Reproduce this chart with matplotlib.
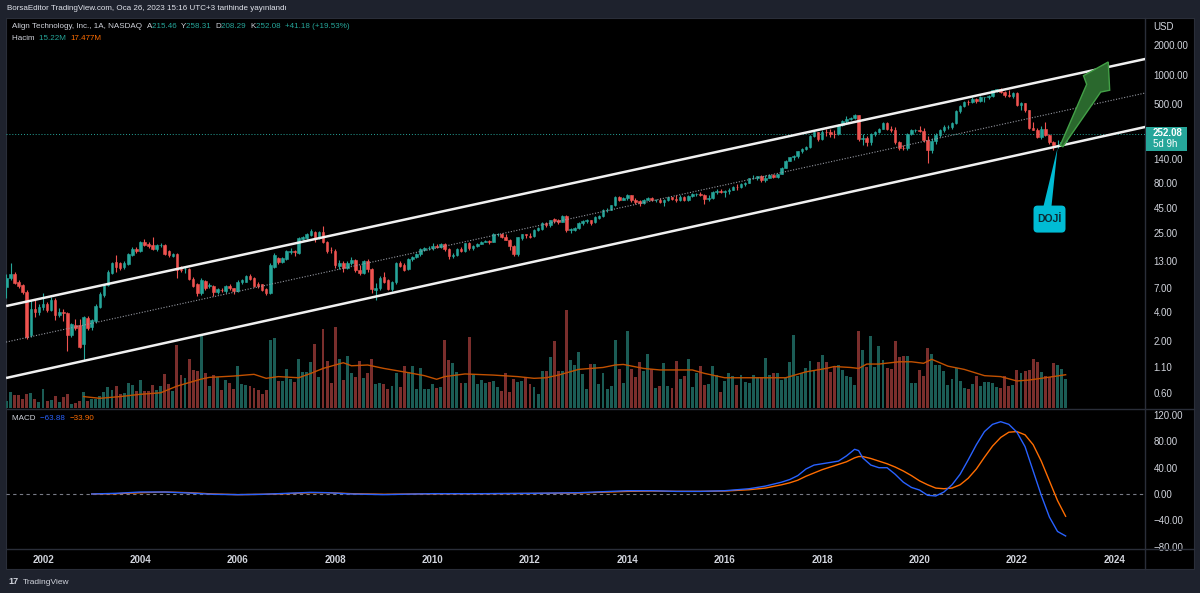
#!/usr/bin/env python3
"""
ALGN monthly candles (TradingView snapshot style): log price pane with
channel, volume overlay + 20-period MA, and a MACD pane below.
x axis = months counted from Jan 2002 (Apr 2001 = -9, Jan 2023 = 252).
"""
import numpy as np
import matplotlib
matplotlib.use("Agg")
import matplotlib.pyplot as plt
from matplotlib.patches import Rectangle, Polygon, FancyBboxPatch
from matplotlib.lines import Line2D
from matplotlib.transforms import IdentityTransform
from matplotlib.ticker import FixedLocator, NullLocator

plt.rcParams["font.family"] = ["Liberation Sans", "DejaVu Sans"]

# --- data: monthly OHLC, Apr 2001 .. Jan 2023 -----------------------------
first_month = -9

open_ = [
    7.1, 8.8, 9.6, 7.9, 7.4, 6.4, 2.3, 4.3, 3.95,                                  # 2001 Apr-Dec
    4.5, 4.8, 4.2, 5.3, 3.7, 3.95, 3.9, 2.3, 2.9, 2.9, 1.9, 3.45,                  # 2002
    2.8, 3.2, 4.5, 5.9, 7.4, 9.8, 12.6, 12.3, 11.2, 12.2, 15.0, 17.4,              # 2003
    16.4, 20.2, 19.5, 18.8, 17.2, 18.8, 18.8, 16.4, 14.6, 15.3, 10.8, 10.7,        # 2004
    10.8, 8.6, 7.6, 6.2, 8.2, 7.2, 7.3, 6.3, 6.7, 6.5, 7.3, 6.9,                   # 2005
    6.5, 8.0, 8.0, 9.2, 8.8, 7.6, 7.6, 6.8, 6.2, 11.3, 14.0, 12.7,                 # 2006
    13.6, 16.0, 16.3, 15.8, 22.0, 22.5, 24.0, 25.6, 22.5, 25.5, 20.2, 16.8,        # 2007
    16.6, 11.6, 12.3, 11.0, 12.3, 13.4, 10.5, 9.8, 13.1, 10.8, 6.7, 6.9,           # 2008
    9.0, 8.3, 6.8, 7.9, 12.4, 11.9, 10.8, 13.5, 14.3, 15.2, 17.0, 17.6,            # 2009
    17.8, 18.6, 17.9, 19.3, 17.2, 14.8, 14.9, 17.4, 16.4, 19.6, 17.6, 18.3,        # 2010
    19.5, 20.5, 21.0, 20.5, 24.4, 24.6, 22.8, 21.5, 18.4, 15.2, 22.4, 24.3,        # 2011
    23.6, 23.3, 26.8, 27.5, 31.5, 29.8, 34.8, 33.5, 32.5, 37.0, 26.6, 27.0,        # 2012
    27.8, 31.5, 32.8, 33.5, 32.0, 35.5, 37.0, 42.8, 43.2, 48.0, 57.3, 54.0,        # 2013
    57.2, 60.0, 54.0, 52.5, 50.5, 54.5, 56.7, 53.6, 54.5, 51.7, 53.5, 57.5,        # 2014
    55.9, 53.4, 58.5, 53.8, 59.5, 61.4, 62.7, 60.5, 55.5, 56.8, 65.5, 66.9,        # 2015
    65.8, 66.2, 68.6, 72.7, 72.3, 79.0, 80.5, 89.6, 90.3, 93.8, 85.8, 90.5,        # 2016
    96.1, 91.5, 98.3, 114.7, 134.7, 146.3, 150.1, 167.8, 176.4, 186.3, 239.0, 261.2,  # 2017
    222.2, 262.3, 260.3, 251.1, 249.9, 307.3, 342.1, 356.5, 366.6, 391.2, 221.2, 230.0,  # 2018
    209.4, 248.9, 260.6, 284.3, 325.2, 284.5, 273.7, 209.2, 182.3, 180.9, 252.0, 277.5,  # 2019
    279.0, 272.0, 219.0, 174.0, 214.4, 245.6, 274.4, 293.8, 297.0, 327.4, 426.1, 482.0,  # 2020
    534.4, 525.2, 567.0, 541.5, 590.0, 590.2, 611.0, 695.8, 709.0, 665.4, 624.3, 612.3,  # 2021
    657.2, 494.7, 512.3, 436.0, 289.9, 278.0, 236.7, 281.0, 244.0, 207.1, 194.3, 196.6,  # 2022
    215.46,                                                                          # 2023 Jan
]
high = [
    9.7, 12.4, 10.0, 8.3, 7.6, 6.6, 5.2, 5.3, 4.8,
    6.2, 5.0, 5.6, 5.5, 4.4, 4.3, 4.0, 3.1, 3.4, 3.4, 3.6, 3.6,
    3.4, 4.8, 6.3, 7.6, 10.5, 12.8, 15.0, 12.8, 13.0, 15.8, 18.0, 18.2,
    20.8, 21.6, 20.3, 22.7, 19.4, 19.8, 19.3, 16.8, 15.6, 15.8, 11.5, 11.6,
    11.0, 9.0, 7.8, 8.7, 8.4, 7.8, 7.5, 7.0, 6.9, 7.5, 7.6, 7.0,
    8.3, 8.6, 9.5, 9.6, 9.0, 7.9, 7.7, 7.0, 12.3, 15.6, 14.4, 14.4,
    16.8, 17.6, 16.8, 22.6, 23.6, 25.0, 27.5, 26.2, 26.0, 29.4, 21.0, 18.0,
    17.2, 13.2, 12.9, 13.0, 14.2, 13.8, 12.0, 13.4, 13.5, 11.0, 7.8, 9.2,
    10.2, 8.6, 8.2, 12.6, 13.0, 12.3, 13.9, 14.8, 15.6, 17.8, 18.2, 18.4,
    19.8, 19.2, 19.9, 19.9, 17.6, 15.6, 17.8, 18.0, 19.8, 20.2, 18.7, 19.9,
    20.9, 21.4, 21.5, 24.8, 25.0, 25.0, 24.2, 22.0, 19.0, 23.0, 24.5, 24.6,
    24.8, 27.3, 28.6, 32.0, 32.0, 34.2, 35.8, 34.5, 38.2, 38.5, 27.8, 28.6,
    32.0, 33.5, 34.8, 34.0, 36.8, 38.5, 43.8, 45.0, 48.5, 59.5, 59.8, 58.5,
    61.5, 61.0, 56.0, 54.5, 55.5, 58.0, 58.5, 55.8, 56.5, 55.0, 58.2, 58.5,
    60.0, 60.0, 59.5, 60.5, 63.5, 64.0, 64.5, 61.5, 60.0, 66.5, 69.0, 69.5,
    67.5, 71.0, 74.5, 79.0, 80.5, 82.5, 91.0, 96.0, 95.0, 96.0, 96.5, 98.5,
    98.0, 99.5, 116.0, 137.0, 147.0, 153.0, 170.0, 181.0, 190.0, 248.0, 273.0, 263.0,
    275.0, 280.0, 280.0, 275.0, 315.0, 350.0, 380.0, 375.0, 398.9, 395.0, 250.0, 238.0,
    260.0, 272.0, 290.0, 335.0, 330.0, 300.0, 295.0, 212.0, 195.0, 255.0, 282.0, 282.0,
    300.0, 292.0, 240.0, 230.0, 255.0, 285.0, 310.0, 310.0, 335.0, 440.0, 490.0, 545.0,
    560.0, 600.0, 580.0, 610.0, 595.0, 620.0, 705.0, 725.0, 737.5, 680.0, 700.0, 670.0,
    665.0, 530.0, 520.0, 440.0, 330.0, 290.0, 300.0, 330.0, 250.0, 215.0, 220.0, 220.0,
    258.31,
]
low = [
    5.5, 8.4, 7.6, 7.0, 6.1, 2.1, 2.2, 3.5, 3.7,
    4.2, 4.0, 4.1, 3.3, 3.5, 3.2, 1.6, 2.2, 2.6, 1.7, 1.3, 2.6,
    2.6, 3.1, 4.4, 5.6, 7.2, 9.6, 10.2, 10.6, 10.9, 12.0, 14.8, 15.6,
    16.0, 18.5, 17.5, 16.8, 16.5, 18.0, 14.9, 14.2, 14.2, 8.8, 10.2, 9.9,
    8.3, 7.1, 5.8, 5.9, 6.6, 7.0, 5.7, 6.1, 6.3, 6.2, 6.6, 6.1,
    6.4, 7.6, 7.9, 8.4, 7.1, 6.9, 6.5, 5.9, 6.1, 11.0, 12.2, 12.4,
    13.2, 15.5, 14.8, 15.5, 21.3, 22.0, 23.4, 20.5, 22.0, 19.8, 15.8, 15.6,
    11.0, 10.8, 10.2, 10.7, 12.0, 10.2, 9.5, 9.7, 10.2, 6.2, 5.3, 6.7,
    7.8, 6.7, 6.5, 7.7, 11.2, 10.3, 10.6, 13.1, 13.9, 14.6, 16.3, 16.9,
    17.0, 17.5, 17.7, 16.6, 13.8, 14.0, 14.5, 15.9, 16.2, 17.0, 17.0, 18.0,
    19.2, 20.2, 19.5, 20.3, 23.4, 22.3, 21.1, 16.8, 14.6, 14.8, 21.2, 22.5,
    22.4, 23.0, 26.2, 27.0, 28.5, 29.0, 31.5, 31.0, 32.0, 25.5, 25.2, 26.4,
    27.5, 30.5, 31.8, 29.8, 31.5, 34.5, 36.5, 41.0, 42.5, 46.5, 53.0, 53.5,
    54.5, 52.0, 49.5, 46.5, 49.5, 53.5, 52.5, 52.0, 50.5, 47.0, 53.0, 54.0,
    51.5, 52.5, 52.5, 53.0, 58.0, 59.0, 59.5, 49.0, 53.0, 55.5, 62.5, 63.5,
    57.5, 62.0, 67.5, 68.0, 71.5, 74.5, 80.0, 88.0, 87.0, 83.0, 83.0, 90.0,
    90.0, 90.5, 98.0, 113.0, 133.0, 138.0, 145.0, 160.0, 173.0, 183.0, 234.0, 213.0,
    220.0, 240.0, 235.0, 230.0, 247.0, 305.0, 320.0, 345.0, 355.0, 211.0, 196.0, 190.0,
    195.0, 240.0, 255.0, 280.0, 277.0, 265.0, 200.0, 172.0, 172.0, 175.0, 248.0, 265.0,
    265.0, 210.0, 127.9, 160.0, 200.0, 233.0, 265.0, 285.0, 283.0, 320.0, 410.0, 470.0,
    490.0, 520.0, 515.0, 535.0, 525.0, 570.0, 600.0, 670.0, 660.0, 600.0, 600.0, 580.0,
    480.0, 440.0, 420.0, 285.0, 275.0, 230.0, 225.0, 240.0, 200.0, 172.0, 182.0, 190.0,
    208.29,
]
close = [
    8.8, 9.6, 7.8, 7.3, 6.3, 2.2, 4.3, 3.95, 4.5,
    4.8, 4.2, 5.3, 3.7, 3.95, 3.9, 2.3, 3.0, 2.75, 1.75, 3.5, 2.76,
    3.3, 4.6, 6.1, 7.4, 10.1, 12.4, 11.3, 11.1, 12.5, 15.3, 17.4, 16.5,
    20.2, 18.8, 18.5, 17.2, 18.8, 19.0, 15.3, 15.0, 15.3, 10.6, 10.5, 10.75,
    8.5, 7.3, 6.2, 8.4, 7.0, 7.4, 6.3, 6.8, 6.6, 7.3, 6.9, 6.47,
    8.0, 8.3, 9.2, 8.6, 7.3, 7.3, 6.7, 6.2, 11.9, 15.0, 12.7, 14.0,
    16.3, 16.4, 15.9, 22.2, 23.0, 24.4, 26.0, 22.2, 25.5, 20.2, 16.3, 16.7,
    11.8, 12.5, 11.1, 12.3, 13.4, 10.5, 9.9, 12.9, 10.8, 6.8, 7.0, 8.75,
    8.0, 6.8, 7.9, 12.3, 11.6, 10.6, 13.6, 14.4, 15.3, 17.3, 17.6, 17.8,
    18.6, 17.9, 19.3, 17.2, 14.8, 14.9, 17.4, 16.4, 19.6, 17.6, 18.3, 19.5,
    20.5, 21.0, 20.5, 24.4, 24.6, 22.8, 21.5, 18.4, 15.2, 22.8, 24.3, 23.7,
    23.0, 26.8, 28.0, 31.5, 29.8, 33.6, 33.0, 32.0, 37.0, 26.6, 27.3, 27.8,
    31.5, 32.8, 33.5, 31.5, 36.2, 37.0, 43.0, 43.2, 48.0, 57.5, 53.8, 57.2,
    60.5, 54.0, 51.8, 50.5, 54.5, 56.7, 53.6, 54.5, 51.7, 53.5, 57.5, 55.9,
    53.4, 58.5, 53.8, 59.5, 61.4, 62.7, 60.5, 55.5, 56.8, 65.5, 66.9, 65.8,
    66.2, 68.6, 72.7, 72.3, 79.0, 80.5, 89.6, 90.3, 93.8, 85.8, 90.5, 96.1,
    91.5, 98.3, 114.7, 134.7, 146.3, 150.1, 167.8, 176.4, 186.3, 239.0, 261.2, 222.2,
    262.3, 260.3, 251.1, 249.9, 307.3, 342.1, 356.5, 366.6, 391.2, 221.2, 230.0, 209.4,
    248.9, 260.6, 284.3, 325.2, 284.5, 273.7, 209.2, 182.3, 180.9, 252.0, 277.5, 279.0,
    272.0, 219.0, 174.0, 214.4, 245.6, 274.4, 293.8, 297.0, 327.4, 426.1, 482.0, 534.4,
    525.2, 567.0, 541.5, 590.0, 590.2, 611.0, 695.8, 709.0, 665.4, 624.3, 612.3, 657.2,
    494.7, 512.3, 436.0, 289.9, 278.0, 236.7, 281.0, 244.0, 207.1, 194.3, 196.6, 210.9,
    252.08,
]
# monthly volume, millions of shares
volume = [
    3.5, 8.4, 7.0, 7.0, 4.9, 7.4, 7.7, 4.7, 3.0,
    9.8, 3.7, 4.0, 6.1, 3.3, 5.6, 7.4, 2.3, 2.6, 3.5, 8.2, 3.5,
    4.7, 4.7, 6.1, 8.4, 11.2, 9.6, 11.7, 7.4, 7.7, 12.9, 12.3, 8.8,
    14.5, 8.8, 9.1, 11.9, 9.3, 11.7, 17.9, 12.6, 9.1, 33.3, 17.5, 15.8,
    25.7, 20.1, 19.6, 37.6, 18.4, 11.4, 17.5, 16.3, 9.6, 14.5, 13.1, 10.0,
    22.2, 12.6, 12.3, 11.4, 10.5, 9.3, 7.5, 9.6, 35.9, 36.6, 14.4, 14.0,
    20.5, 15.4, 13.5, 25.7, 18.9, 18.9, 24.2, 33.8, 16.5, 41.5, 24.9, 13.0,
    42.4, 25.7, 14.7, 27.3, 18.2, 16.5, 24.5, 15.9, 18.6, 25.7, 12.4, 13.0,
    12.6, 10.2, 11.7, 18.4, 10.9, 22.1, 18.9, 22.1, 10.2, 21.2, 10.2, 9.8,
    12.8, 10.5, 11.2, 35.9, 25.4, 23.8, 18.9, 13.0, 13.0, 37.5, 17.5, 12.6,
    14.7, 13.0, 13.5, 14.4, 11.2, 8.8, 18.6, 8.4, 15.4, 13.5, 14.0, 16.3,
    12.8, 11.2, 7.5, 19.4, 19.4, 27.0, 35.2, 19.4, 19.6, 51.5, 25.2, 22.6,
    29.6, 17.8, 10.2, 23.3, 23.3, 12.6, 18.6, 9.9, 11.7, 35.5, 20.5, 13.1,
    40.4, 20.3, 16.5, 24.2, 19.4, 28.4, 20.5, 10.5, 11.6, 23.4, 11.4, 10.5,
    24.5, 15.0, 16.6, 25.6, 11.0, 18.4, 22.0, 12.3, 12.8, 22.0, 17.5, 8.4,
    14.2, 18.6, 17.0, 12.1, 17.3, 13.8, 13.3, 17.3, 16.1, 16.5, 26.1, 17.2,
    18.2, 18.4, 14.7, 15.9, 24.3, 38.3, 16.8, 18.4, 21.0, 24.9, 20.1, 24.0,
    27.8, 24.0, 18.7, 22.2, 22.6, 20.1, 17.0, 16.1, 12.1, 40.6, 30.6, 21.5,
    37.6, 21.5, 32.4, 25.4, 20.8, 20.5, 35.4, 26.8, 27.5, 27.5, 13.0, 13.0,
    20.0, 16.6, 31.5, 28.5, 22.8, 22.8, 19.3, 12.3, 15.4, 20.8, 14.0, 10.5,
    10.0, 12.8, 17.0, 11.7, 13.5, 13.5, 13.1, 11.2, 10.7, 17.0, 11.4, 11.9,
    20.1, 18.4, 19.3, 19.8, 25.7, 24.0, 18.7, 16.6, 16.1, 23.6, 22.8, 20.5,
    15.22,
]

# volume 20-period MA, read at these months
vma_month = [10, 14, 19, 24, 29, 33, 39, 41, 47, 52, 55, 58, 63, 66, 69, 74, 76, 80,
             84, 90, 94, 97, 99, 104, 111, 117, 121, 124, 127, 130, 132, 138, 141,
             143, 148, 152, 160, 163, 168, 177, 183, 188, 193, 195, 199, 201, 203,
             206, 211, 214, 217, 219, 223, 227, 232, 236, 240, 243, 246, 252]
vma_value = [6.0, 5.1, 6.0, 7.2, 8.0, 11.5, 15.2, 16.1, 16.8, 17.7, 15.6, 16.5, 15.9,
             18.2, 20.8, 23.8, 22.2, 22.6, 20.8, 18.6, 17.0, 15.1, 16.5, 17.9, 17.3,
             16.5, 15.6, 15.9, 17.3, 19.1, 20.3, 21.3, 22.6, 22.9, 20.8, 20.0, 20.0,
             18.2, 15.9, 15.9, 15.9, 19.0, 20.8, 21.8, 21.3, 20.8, 23.1, 23.1, 24.3,
             24.3, 23.5, 25.6, 22.0, 20.3, 17.0, 16.5, 14.2, 14.7, 15.6, 17.48]

# MACD (12, 26, 9) values
macd_month = [12, 18, 24, 30, 36, 42, 48, 54, 60, 66, 70, 76, 84, 96, 108, 120, 132,
              144, 150, 156, 162, 168, 174, 178, 182, 184, 186, 188, 190, 192, 194,
              196, 198, 200, 201, 202, 204, 206, 208, 210, 212, 214, 216, 218, 220,
              222, 224, 226, 228, 230, 232, 234, 236, 238, 240, 242, 244, 246, 248,
              250, 252]
macd_line = [0, 1, 3, 3, 1.5, -0.5, -1, -0.5, 1, 2.5, 2, 0, -1, 0.5, 0.5, 1, 2,
             5, 5, 4, 4, 5, 8, 12, 18, 22, 28, 38, 44, 46, 48,
             50, 58, 68, 66, 55, 44, 40, 40, 30, 18, 10, 6, -2, -3,
             3, 14, 30, 52, 75, 95, 106, 110, 106, 94, 72, 35, -2, -35,
             -57, -63.88]
signal_line = [0, 0.5, 2, 3, 2, 0, -1, -0.5, 0.5, 2, 2, 0.5, -0.5, 0.3, 0.4, 0.8, 1.5,
               4, 4.5, 4, 4, 4.5, 6.5, 9, 14, 17, 21, 27, 32, 37, 41,
               45, 49, 55, 57, 57, 54, 50, 46, 41, 35, 28, 20, 14, 9,
               8, 9, 14, 24, 38, 56, 73, 86, 94, 95, 90, 75, 50, 20,
               -10, -33.90]

price_ticks = [0.6, 1.1, 2, 4, 7, 13, 25, 45, 80, 140, 500, 1000, 2000]
macd_ticks = [-80, -40, 0, 40, 80, 120]
year_labels = [str(y) for y in range(2002, 2026, 2)]

# channel drawn on the chart: (month, price) at both ends of the view
chan_upper = [(-9.1, 4.56), (271.6, 1443)]
chan_mid = [(-9.1, 1.97), (271.6, 653)]
chan_lower = [(-9.1, 0.853), (271.6, 296)]
arrow_from = (251.0, 190)     # green arrow drawn from the Nov/Dec 2022 low
arrow_to = (262.5, 1346)
doji_at = (250, 181)

# --- style ---------------------------------------------------------------
W, H = 1200, 593
UP, DOWN = "#26a69a", "#ef5350"
VOL_UP, VOL_DOWN = "#1b5c55", "#7a2e2c"
TXT = "#d1d4dc"
GRID = "#2a2e39"
XMIN, XMAX = -9.12, 271.56
LEG = 5.8   # legend font size (the snapshot font is narrow)


def fx(px):
    return px / W


def fy(py):
    return 1 - py / H


fig = plt.figure(figsize=(W / 100, H / 100), dpi=100, facecolor="#1e222d")
fig.patches.append(Rectangle((fx(6), fy(569)), fx(1194) - fx(6), fy(18) - fy(569),
                             transform=fig.transFigure, facecolor="black",
                             edgecolor=GRID, lw=0.8, zorder=-1))

pane = [fx(6), fy(408), fx(1145) - fx(6), fy(18) - fy(408)]
ax_v = fig.add_axes(pane, zorder=1)
ax = fig.add_axes(pane, zorder=2)
ax_m = fig.add_axes([fx(6), fy(549), fx(1145) - fx(6), fy(410) - fy(549)], zorder=1)
for a in (ax_v, ax, ax_m):
    a.set_facecolor("none")
    for s in a.spines.values():
        s.set_visible(False)
    a.set_xlim(XMIN, XMAX)

x = np.arange(first_month, first_month + len(close))
o, h, l, c = map(np.asarray, (open_, high, low, close))
up = c >= o

# volume overlay
ax_v.bar(x, volume, width=0.72, color=np.where(up, VOL_UP, VOL_DOWN), linewidth=0)
ax_v.plot(vma_month, vma_value, color="#c25100", lw=1)
ax_v.set_ylim(0, 205)
ax_v.set_xticks([])
ax_v.set_yticks([])

# candles
cols = np.where(up, UP, DOWN)
ax.vlines(x, l, h, colors=cols, lw=0.8, zorder=3)
ax.bar(x, np.abs(c - o), bottom=np.minimum(o, c), width=0.64, color=cols,
       edgecolor=cols, linewidth=0.4, zorder=4)
ax.set_yscale("log")
ax.set_ylim(0.424, 3750)
ax.yaxis.tick_right()
ax.yaxis.set_major_locator(FixedLocator(price_ticks))
ax.yaxis.set_minor_locator(NullLocator())
ax.set_yticklabels([f"{v:.2f}" for v in price_ticks])
ax.tick_params(axis="y", length=0, pad=6, labelsize=7, labelcolor=TXT)
ax.tick_params(axis="x", bottom=False, labelbottom=False)

# channel
for pts, ls, lw, col in ((chan_upper, "-", 1.8, "#f0f0f0"),
                         (chan_lower, "-", 1.8, "#f0f0f0"),
                         (chan_mid, (0, (1, 1.5)), 0.8, "#9598a1")):
    ax.plot([pts[0][0], pts[1][0]], [pts[0][1], pts[1][1]], ls=ls, lw=lw, color=col,
            zorder=5, solid_capstyle="butt")

ax.axhline(close[-1], color=UP, lw=0.7, ls=(0, (1, 2)), zorder=2)

# MACD pane
ax_m.axhline(0, color="#787b86", lw=0.8, ls=(0, (3, 3)))
ax_m.plot(macd_month, signal_line, color="#ff6d00", lw=1)
ax_m.plot(macd_month, macd_line, color="#2962ff", lw=1)
ax_m.set_ylim(-83.7, 127.8)
ax_m.yaxis.tick_right()
ax_m.set_yticks(macd_ticks)
ax_m.set_yticklabels([f"{v:.2f}".replace("-", "\u2212") for v in macd_ticks])
ax_m.tick_params(axis="y", length=0, pad=6, labelsize=7, labelcolor=TXT)
ax_m.set_xticks(np.arange(0, 24 * len(year_labels), 24))
ax_m.set_xticklabels(year_labels, fontweight="bold")
ax_m.tick_params(axis="x", length=0, pad=4.5, labelsize=7, labelcolor=TXT)

# pane separators
for xs, ys in (([6, 1194], [409, 409]), ([6, 1194], [549, 549]), ([1145, 1145], [18, 569])):
    fig.add_artist(Line2D([fx(v) for v in xs], [fy(v) for v in ys],
                          transform=fig.transFigure, color=GRID, lw=1))

# --- drawings (display pixels, anchored on data points) --------------------
ident = IdentityTransform()
t0 = ax.transData.transform(arrow_from)
t1 = ax.transData.transform(arrow_to)
d = t1 - t0
u = d / np.hypot(*d)
n = np.array([-u[1], u[0]])
base = t1 - u * 30
notch = t1 - u * 24
arrow_pts = [t0 + n * 1.5, base + n * 8, notch + n * 15, t1, notch - n * 15,
             base - n * 8, t0 - n * 1.5]
fig.add_artist(Polygon(arrow_pts, closed=True, transform=ident, facecolor="#2a682d",
                       edgecolor="#43a047", lw=1, zorder=6))

dp = ax.transData.transform(doji_at)
cx, cy = dp[0] - 8, dp[1] - 71
fig.add_artist(Polygon([(cx - 6, cy + 13), (cx + 2, cy + 13), tuple(dp)], closed=True,
                       transform=ident, facecolor="#00bcd4", lw=0, zorder=6))
fig.add_artist(FancyBboxPatch((cx - 16, cy - 13.5), 32, 27,
                              boxstyle="round,pad=0,rounding_size=4",
                              transform=ident, facecolor="#00bcd4", lw=0, zorder=6))
fig.text(cx / W, cy / H, "DOJİ", ha="center", va="center", fontsize=7.5,
         fontweight="bold", color="#0c2a33", zorder=7)

# last price tag on the axis
py = ax.transData.transform((0, close[-1]))[1]
fig.add_artist(Rectangle((1146, py - 17), 41, 24, transform=ident, facecolor=UP, lw=0,
                         zorder=6))
fig.text(1153 / W, (py + 0.5) / H, f"{close[-1]:.2f}", color="white", fontsize=7,
         fontweight="bold", va="center", ha="left", zorder=7)
fig.text(1153 / W, (py - 10) / H, "5d 9h", color="white", fontsize=7,
         va="center", ha="left", zorder=7)
fig.text(fx(1153), fy(27), "USD", color=TXT, fontsize=7, va="center", ha="left")

# --- header / legends ----------------------------------------------------
renderer = fig.canvas.get_renderer()


def text_run(x0, y0, parts, size=LEG, weight="normal"):
    for s, col in parts:
        t = fig.text(fx(x0), fy(y0), s, color=col, fontsize=size, va="center",
                     ha="left", fontweight=weight)
        x0 += t.get_window_extent(renderer=renderer).width


text_run(7, 9, [("BorsaEditor TradingView.com, Oca 26, 2023 15:16 UTC+3 tarihinde yayınlandı",
                 "#e0e3eb")])
text_run(12, 27, [("Align Technology, Inc., 1A, NASDAQ  ", TXT), ("A", TXT),
                  (f"{open_[-1]:.2f}  ", UP), ("Y", TXT), (f"{high[-1]:.2f}  ", UP),
                  ("D", TXT), (f"{low[-1]:.2f}  ", UP), ("K", TXT),
                  (f"{close[-1]:.2f}  ", UP), ("+41.18 (+19.53%)", UP)])
text_run(12, 39, [("Hacim  ", TXT), ("15.22M  ", UP), ("17.477M", "#ff6d00")])
text_run(12, 418, [("MACD  ", TXT), ("\u221263.88  ", "#2962ff"), ("\u221233.90", "#ff6d00")])
text_run(8, 582, [("17", TXT)], size=6.5, weight="bold")
text_run(23, 582, [("TradingView", TXT)], size=6)

fig.savefig("out.png", dpi=100, facecolor=fig.get_facecolor())
